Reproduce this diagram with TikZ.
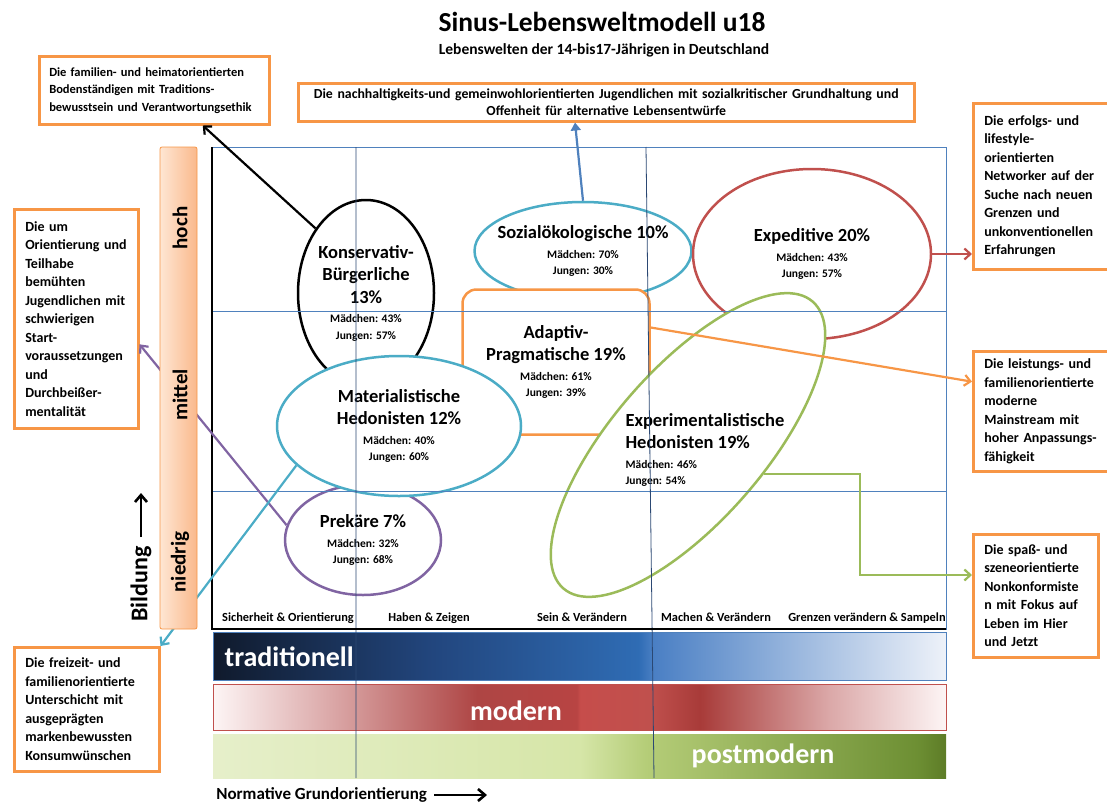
\documentclass[tikz,border=0pt]{standalone}
\usepackage{fontspec}
\setmainfont{Carlito}
\usepackage{xcolor}
\usepackage{tikz}
\usetikzlibrary{shapes.geometric, arrows.meta}

\definecolor{boxorange}{HTML}{F79646}
\definecolor{sinuscyan}{HTML}{4BACC6}
\definecolor{sinusred}{HTML}{C0504D}
\definecolor{sinusgreen}{HTML}{9BBB59}
\definecolor{sinuspurple}{HTML}{8064A2}
\definecolor{gridblue}{HTML}{4F81BD}
\definecolor{griddark}{HTML}{2B4873}
\definecolor{barlight}{HTML}{FEE6D3}
\definecolor{bardark}{HTML}{FAB98C}
% band colours
\definecolor{tradA}{HTML}{101A2C}
\definecolor{tradB}{HTML}{22467E}
\definecolor{tradC}{HTML}{2F6CB4}
\definecolor{tradD}{HTML}{4A7FC4}
\definecolor{tradE}{HTML}{EEF2F9}
\definecolor{modA}{HTML}{FDF5F5}
\definecolor{modB}{HTML}{DBA8A8}
\definecolor{modC}{HTML}{AE4544}
\definecolor{modD}{HTML}{B84443}
\definecolor{modE}{HTML}{C64D4B}
\definecolor{modF}{HTML}{C0504D}
\definecolor{modG}{HTML}{A83B39}
\definecolor{postA}{HTML}{E6EFCA}
\definecolor{postB}{HTML}{D6E6A8}
\definecolor{postC}{HTML}{B5CD78}
\definecolor{postD}{HTML}{6D8F33}
\definecolor{postE}{HTML}{5D7C27}

\pgfdeclarehorizontalshading{tradfill}{100bp}{color(0bp)=(tradA); color(25bp)=(tradA); color(40bp)=(tradB); color(54bp)=(tradC); color(55bp)=(tradD); color(75bp)=(tradE); color(100bp)=(tradE)}
\pgfdeclarehorizontalshading{modfill}{100bp}{color(0bp)=(modA); color(25bp)=(modA); color(33bp)=(modB); color(43bp)=(modC); color(49.8bp)=(modD); color(50bp)=(modE); color(54.8bp)=(modF); color(58.2bp)=(modG); color(67bp)=(modB); color(75bp)=(modA); color(100bp)=(modA)}
\pgfdeclarehorizontalshading{postfill}{100bp}{color(0bp)=(postA); color(25bp)=(postA); color(50bp)=(postB); color(54.5bp)=(postC); color(73bp)=(postD); color(75bp)=(postE); color(100bp)=(postE)}

\newcommand{\headfont}{\fontsize{18.5}{22.5}\selectfont}
\newcommand{\pctfont}{\fontsize{11.5}{16.5}\selectfont}
% share of girls and boys below a milieu name
\newcommand{\girlsboys}[2]{\\[-3pt]\pctfont Mädchen: #1\%\\[-6pt]\pctfont Jungen: #2\%}

\tikzstyle{callout} = [rectangle, draw=boxorange, line width=2.5pt, fill=white, align=left, anchor=north west, inner xsep=11pt, font=\bfseries\fontsize{14}{18.5}\selectfont]
\tikzstyle{milieu} = [ellipse, line width=2.5pt, fill=white, align=center, inner sep=0pt, font=\bfseries\headfont]
\tikzstyle{band} = [rectangle, anchor=north west, minimum width=733pt, inner sep=0pt]
\tikzstyle{bandtext} = [text=white, font=\bfseries\fontsize{28}{32}\selectfont]
\tikzstyle{collabel} = [anchor=base, font=\bfseries\fontsize{12.4}{14}\selectfont]
\tikzstyle{barlabel} = [rotate=90, font=\bfseries\fontsize{21}{24}\selectfont]
\tikzstyle{axislabel} = [font=\bfseries\fontsize{17}{20}\selectfont]
\tikzstyle{conn} = [line width=2.2pt, -{Straight Barb[length=6pt,width=11pt]}]
\tikzstyle{axisarrow} = [line width=2.6pt, -{Straight Barb[length=7pt,width=12pt]}]

\begin{document}
\begin{tikzpicture}[x=1pt, y=-1pt]
\useasboundingbox (0,0) rectangle (1107,803);

% milieus
\node[milieu, draw=sinuscyan, minimum width=217pt, minimum height=98pt, inner xsep=-12pt] (sozial) at (583,251) {Sozialökologische 10\%\girlsboys{70}{30}};
\node[milieu, draw=sinusred, minimum width=238pt, minimum height=170pt] (expedit) at (812,254) {Expeditive 20\%\girlsboys{43}{57}};
\node[milieu, draw=black, minimum width=136pt, minimum height=186pt] (konserv) at (366,293) {Konservativ-\\Bürgerliche\\13\%\girlsboys{43}{57}};
\node[milieu, rectangle, rounded corners=14pt, draw=boxorange, minimum width=187pt, minimum height=145pt] (adaptiv) at (556,362) {Adaptiv-\\Pragmatische 19\%\girlsboys{61}{39}};
\node[milieu, draw=sinuspurple, minimum width=156pt, minimum height=110pt] (prek) at (363,540) {Prekäre 7\%\girlsboys{32}{68}};
\node[milieu, draw=sinuscyan, minimum width=244pt, minimum height=140pt] (mater) at (399,426) {Materialistische\\Hedonisten 12\%\girlsboys{40}{60}};
\node[milieu, draw=sinusgreen, minimum width=380pt, minimum height=152pt, rotate=49] (expell) at (688,445) {};
\node[align=left, anchor=west, font=\bfseries\headfont] (exphed) at (622,450) {Experimentalistische\\Hedonisten 19\%\girlsboys{46}{54}};

% bands
\node[band, shading=tradfill, draw=gridblue, line width=0.8pt, minimum height=48pt] (tradband) at (213,632) {};
\node[band, shading=modfill, draw=sinusred, line width=0.8pt, minimum height=46pt] (modband) at (213,684) {};
\node[band, shading=postfill, minimum height=44pt] (postband) at (213,734) {};
\node[bandtext, anchor=west] (tradtext) at (221,657) {traditionell};
\node[bandtext] (modtext) at (516,711) {modern};
\node[bandtext] (posttext) at (763,756) {postmodern};

% grid
\draw[gridblue, line width=0.9pt] (212,147) -- (946,147) (212,311) -- (946,311) (212,491) -- (946,491) (946,147) -- (946,630);
\draw[griddark, line width=0.8pt] (356,147) -- (356,778) (646,147) -- (654,778);
\draw[black, line width=2.8pt] (212,147) -- (212,629) -- (946,629);

\node[collabel] (colsich) at (288,621) {Sicherheit \& Orientierung};
\node[collabel] (colhaben) at (429,621) {Haben \& Zeigen};
\node[collabel] (colsein) at (582,621) {Sein \& Verändern};
\node[collabel] (colmachen) at (716,621) {Machen \& Verändern};
\node[collabel] (colgrenzen) at (867,621) {Grenzen verändern \& Sampeln};

% callouts
\node[callout, font=\bfseries\fontsize{12.5}{17.5}\selectfont, inner xsep=10pt, text width=210pt, minimum height=68pt] (heimat) at (38,55) {Die familien- und heimatorientierten\\Bodenständigen mit Traditions-\\bewusstsein und Verantwortungsethik};
\node[callout, font=\bfseries\fontsize{13.8}{17}\selectfont, align=center, inner xsep=6pt, inner ysep=1pt, text width=604pt, minimum height=38pt] (nachhaltig) at (297,82) {Die nachhaltigkeits-und gemeinwohlorientierten Jugendlichen mit sozialkritischer Grundhaltung und\\Offenheit für alternative Lebensentwürfe};
\node[callout, text width=122pt, minimum height=166pt] (erfolg) at (972,102) {Die erfolgs- und\\lifestyle-\\orientierten\\Networker auf der\\Suche nach neuen\\Grenzen und\\unkonventionellen\\Erfahrungen};
\node[callout, text width=102pt, minimum height=219pt] (orient) at (13,208) {Die um\\Orientierung und\\Teilhabe\\bemühten\\Jugendlichen mit\\schwierigen\\Start-\\voraussetzungen\\und\\Durchbeißer-\\mentalität};
\node[callout, text width=122pt, minimum height=120pt] (leistung) at (972,350) {Die leistungs- und\\familienorientierte\\moderne\\Mainstream mit\\hoher Anpassungs-\\fähigkeit};
\node[callout, text width=103pt, minimum height=123pt] (spass) at (972,533) {Die spaß- und\\szeneorientierte\\Nonkonformiste\\n mit Fokus auf\\Leben im Hier\\und Jetzt};
\node[callout, text width=123pt, minimum height=124pt] (freizeit) at (13,646) {Die freizeit- und\\familienorientierte\\Unterschicht mit\\ausgeprägten\\markenbewussten\\Konsumwünschen};

% connectors
\coordinate (greenturn) at (860,575);
\draw[conn] (konserv.128) -- (heimat.-36);
\draw[conn, gridblue, -{Triangle[length=8pt,width=10pt]}] (sozial.north) -- ([xshift=-8pt]sozial.north |- nachhaltig.south);
\draw[conn, sinusred] (expedit.east) -- (expedit.east -| erfolg.west);
\draw[conn, boxorange] (adaptiv.20) -- (leistung.158);
\draw[conn, sinusgreen] (expell.-70) -| (greenturn) -- (greenturn -| spass.west);
\draw[conn, sinuspurple] (prek.169) -- (orient.-22);
\draw[conn, sinuscyan] (mater.201) -- (freizeit.north east);

% Bildung bar
\node[rectangle, rounded corners=2pt, draw=boxorange, line width=0.8pt, left color=barlight, right color=bardark, minimum width=37pt, minimum height=482pt] (bar) at (178.5,388) {};
\node[barlabel] (hoch) at (180,228) {hoch};
\node[barlabel] (mittel) at (180,395) {mittel};
\node[barlabel] (niedrig) at (180,562) {niedrig};

% axes
\coordinate (bildtip) at (141,493);
\node[barlabel, font=\bfseries\fontsize{24}{28}\selectfont, outer sep=6pt] (bildung) at (141,584) {Bildung};
\draw[axisarrow] (bildung.east) -- (bildtip);
\coordinate (normtip) at (487,795);
\node[axislabel, anchor=west, outer sep=4pt] (normativ) at (209,795) {Normative Grundorientierung};
\draw[axisarrow] (normativ.east) -- (normtip);

% titles
\node[font=\bfseries\fontsize{27.5}{32}\selectfont] (title) at (602,22) {Sinus-Lebensweltmodell u18};
\node[font=\bfseries\fontsize{15.5}{18}\selectfont] (subtitle) at (604,50) {Lebenswelten der 14-bis17-Jährigen in Deutschland};
\end{tikzpicture}
\end{document}
